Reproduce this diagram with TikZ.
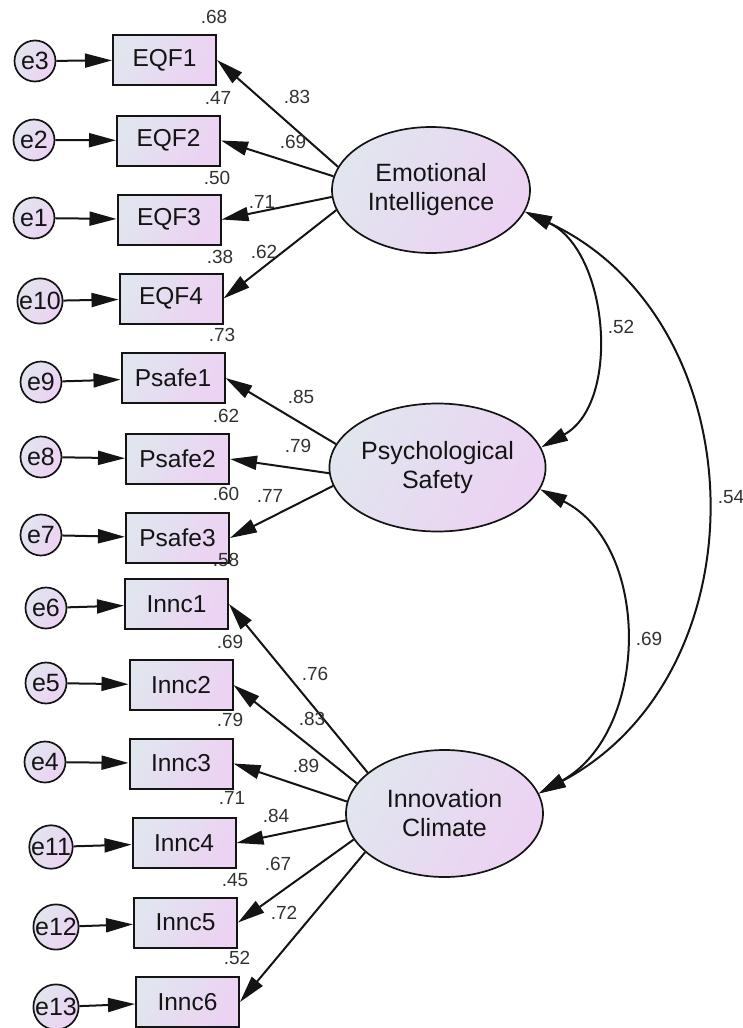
\documentclass[tikz,border=0pt]{standalone}
\usepackage{fontspec}
\setmainfont{Liberation Sans}
\usetikzlibrary{arrows.meta,shapes.geometric}
\definecolor{cA}{RGB}{225,229,238}
\definecolor{cB}{RGB}{236,210,243}
\definecolor{ink}{RGB}{20,20,20}
\definecolor{lab}{RGB}{50,50,50}
\begin{document}
\begin{tikzpicture}[x=1pt,y=1pt,
  obs/.style={draw=ink, line width=2pt, top color=cA, bottom color=cB, shading angle=60,
    minimum width=103pt, minimum height=50pt, inner sep=0pt, text=ink,
    font=\fontsize{24.5}{28}\selectfont},
  lat/.style={ellipse, draw=ink, line width=1.7pt, top color=cA, bottom color=cB, shading angle=60,
    inner sep=0pt, align=center, text=ink, font=\fontsize{25}{29}\selectfont},
  err/.style={circle, draw=ink, line width=1.7pt, top color=cA, bottom color=cB, shading angle=60,
    minimum size=41pt, inner sep=0pt, text=ink, font=\fontsize{25}{25}\selectfont},
  lbl/.style={font=\fontsize{19}{19}\selectfont, text=lab, inner sep=0pt},
  pth/.style={line width=2pt, draw=ink, -{Triangle[length=27pt,width=14pt]}},
  cov/.style={line width=2pt, draw=ink, {Triangle[length=27pt,width=14pt]}-{Triangle[length=27pt,width=14pt]}}]
\useasboundingbox (0,0) rectangle (743,-1028);

% latent variables
\node[lat, minimum width=198pt, minimum height=126pt] (EI) at (431,-190) {Emotional\\Intelligence};
\node[lat, minimum width=198pt, minimum height=128pt] (PS) at (437.5,-467.5) {Psychological\\Safety};
\node[lat, minimum width=197pt, minimum height=127pt] (IC) at (444.5,-813.5) {Innovation\\Climate};

% observed variables
\node[obs] (EQF1) at (164.5,-60) {EQF1};
\node[obs] (EQF2) at (168.5,-140.5) {EQF2};
\node[obs] (EQF3) at (169,-219.5) {EQF3};
\node[obs] (EQF4) at (171,-298.5) {EQF4};
\node[obs] (P1) at (173,-378) {Psafe1};
\node[obs] (P2) at (177.5,-459) {Psafe2};
\node[obs] (P3) at (177.5,-538) {Psafe3};
\node[obs] (I1) at (176.5,-604) {Innc1};
\node[obs] (I2) at (181,-685) {Innc2};
\node[obs] (I3) at (181,-763.5) {Innc3};
\node[obs] (I4) at (184,-843) {Innc4};
\node[obs] (I5) at (185.5,-922.5) {Innc5};
\node[obs] (I6) at (187.5,-1002) {Innc6};

% error terms
\node[err] (e3) at (35,-61) {e3};
\node[err] (e2) at (34,-140) {e2};
\node[err] (e1) at (34,-218) {e1};
\node[err] (e10) at (40,-301) {e10};
\node[err] (e9) at (41,-382) {e9};
\node[err] (e8) at (41,-457) {e8};
\node[err] (e7) at (41,-535) {e7};
\node[err] (e6) at (46,-608) {e6};
\node[err] (e5) at (46,-683) {e5};
\node[err] (e4) at (45,-762) {e4};
\node[err] (e11) at (51,-847) {e11};
\node[err] (e12) at (56,-927) {e12};
\node[err] (e13) at (56,-1007) {e13};

% error paths
\foreach \e/\b in {e3/EQF1,e2/EQF2,e1/EQF3,e10/EQF4,e9/P1,e8/P2,e7/P3,e6/I1,e5/I2,e4/I3,e11/I4,e12/I5,e13/I6}
  \draw[pth] (\e) -- (\b);

% loadings
\draw[pth] (EI.166.3) -- (EQF1.east);
\draw[pth] (EI.172.7) -- (EQF2.east);
\draw[pth] (EI.184.5) -- (EQF3.east);
\draw[pth] (EI.192.1) -- (EQF4.east);
\draw[pth] (PS.167.8) -- (P1.east);
\draw[pth] (PS.183.7) -- (P2.east);
\draw[pth] (PS.190.9) -- (P3.east);
\draw[pth] (IC.152.4) -- (I1.east);
\draw[pth] (IC.161.2) -- (I2.east);
\draw[pth] (IC.173.3) -- (I3.east);
\draw[pth] (IC.184.9) -- (I4.east);
\draw[pth] (IC.196.7) -- (I5.east);
\draw[pth] (IC.206.7) -- (I6.east);

% covariances
\draw[cov] (EI.-13.3) to[out=-25,in=29,looseness=1.0] (PS.11.5);
\draw[cov] (EI.-13.3) to[out=-25,in=28,looseness=1.13] (IC.12.7);
\draw[cov] (PS.-12.1) to[out=-27,in=29,looseness=1.06] (IC.12.7);

% squared multiple correlations
\node[lbl] (r1) at (214,-17) {.68};
\node[lbl] (r2) at (218,-98) {.47};
\node[lbl] (r3) at (217,-178) {.50};
\node[lbl] (r4) at (220,-257) {.38};
\node[lbl] (r5) at (222,-335) {.73};
\node[lbl] (r6) at (226,-416) {.62};
\node[lbl] (r7) at (226,-494) {.60};
\node[lbl] (r8) at (226,-560) {.58};
\node[lbl] (r9) at (230,-642) {.69};
\node[lbl] (r10) at (230,-720) {.79};
\node[lbl] (r11) at (232,-798) {.71};
\node[lbl] (r12) at (235,-880) {.45};
\node[lbl] (r13) at (237,-958) {.52};

% loading labels
\node[lbl] (w1) at (297,-97) {.83};
\node[lbl] (w2) at (293,-142) {.69};
\node[lbl] (w3) at (262,-202) {.71};
\node[lbl] (w4) at (264,-252) {.62};
\node[lbl] (w5) at (301,-397) {.85};
\node[lbl] (w6) at (298,-446) {.79};
\node[lbl] (w7) at (270,-496) {.77};
\node[lbl] (w8) at (315,-674) {.76};
\node[lbl] (w9) at (312,-719) {.83};
\node[lbl] (w10) at (306,-766) {.89};
\node[lbl] (w11) at (276,-816) {.84};
\node[lbl] (w12) at (278,-864) {.67};
\node[lbl] (w13) at (284,-913) {.72};

% correlation labels
\node[lbl] (c1) at (621,-327) {.52};
\node[lbl] (c2) at (731,-497) {.54};
\node[lbl] (c3) at (649,-639) {.69};
\end{tikzpicture}
\end{document}
